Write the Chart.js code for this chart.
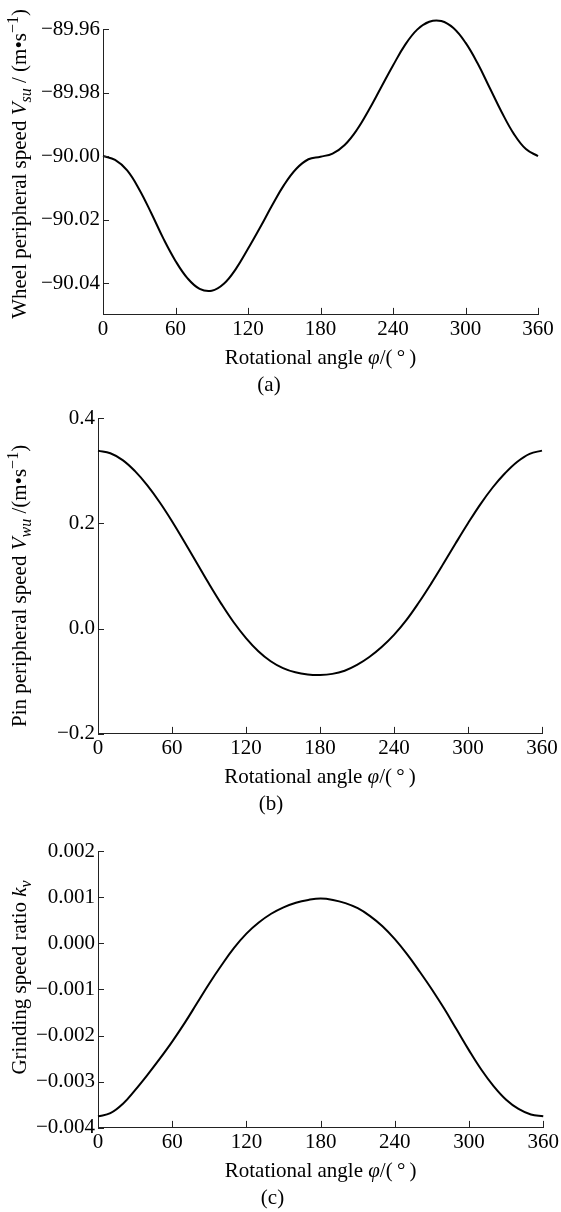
<!DOCTYPE html>
<html>
<head>
<meta charset="utf-8">
<script src="https://cdn.jsdelivr.net/npm/chart.js@4"></script>
<style>
  body { margin: 0; background: #fff; }
  .box { position: absolute; left: 0; width: 561px; }
</style>
</head>
<body>
<div class="box" style="top:0px"><canvas id="chartA" width="561" height="400"></canvas></div>
<div class="box" style="top:400px"><canvas id="chartB" width="561" height="420"></canvas></div>
<div class="box" style="top:820px"><canvas id="chartC" width="561" height="392"></canvas></div>
<script>
// rotational angle, degrees
const angles = [0, 10, 20, 30, 40, 50, 60, 70, 80, 90, 100, 110, 120, 130, 140, 150, 160, 170, 180,
    190, 200, 210, 220, 230, 240, 250, 260, 270, 280, 290, 300, 310, 320, 330, 340, 350, 360];

// (a) wheel peripheral speed
const wheelSpeed = [-90.0000, -90.0012, -90.0045, -90.0105, -90.0180, -90.0260, -90.0330, -90.0385, -90.0418,
    -90.0424, -90.0402, -90.0355, -90.0292, -90.0225, -90.0155, -90.0090, -90.0040, -90.0010, -90.0002,
    -89.9992, -89.9965, -89.9918, -89.9855, -89.9785, -89.9715, -89.9650, -89.9602, -89.9577, -89.9575,
    -89.9597, -89.9643, -89.9708, -89.9785, -89.9862, -89.9930, -89.9978, -90.0000];

// (b) pin peripheral speed
const pinSpeed = [0.338, 0.333, 0.320, 0.299, 0.272, 0.240, 0.204, 0.165, 0.125, 0.085, 0.047, 0.012, -0.018,
    -0.043, -0.062, -0.075, -0.083, -0.087, -0.088, -0.086, -0.080, -0.069, -0.054, -0.035, -0.012, 0.016,
    0.049, 0.085, 0.123, 0.162, 0.200, 0.236, 0.268, 0.295, 0.317, 0.332, 0.338];

// (c) grinding speed ratio
const speedRatio = [-0.00375, -0.00368, -0.00348, -0.00318, -0.00285, -0.00250, -0.00213, -0.00173, -0.00130,
    -0.00087, -0.00047, -0.00010, 0.00021, 0.00045, 0.00064, 0.00078, 0.00088, 0.00094, 0.00097, 0.00094,
    0.00087, 0.00076, 0.00059, 0.00037, 0.00009, -0.00024, -0.00061, -0.00100, -0.00142, -0.00187, -0.00232,
    -0.00274, -0.00310, -0.00339, -0.00359, -0.00371, -0.00375];

const xTicks = [0, 60, 120, 180, 240, 300, 360];
const yTicksA = [-90.04, -90.02, -90.00, -89.98, -89.96];
const yTicksB = [-0.2, 0.0, 0.2, 0.4];
const yTicksC = [-0.004, -0.003, -0.002, -0.001, 0.000, 0.001, 0.002];

const FONT = '"Liberation Serif", "Times New Roman", serif';
const FS = 21;

function drawRich(ctx, segs, cx, cy, rot) {
    const fontOf = s => (s.i ? 'italic ' : '') + ((s.sub || s.sup) ? Math.round(FS * 0.75) : FS) + 'px ' + FONT;
    let total = 0;
    segs.forEach(s => { ctx.font = fontOf(s); total += ctx.measureText(s.t).width; });
    ctx.save();
    ctx.translate(cx, cy);
    ctx.rotate(rot);
    ctx.textBaseline = 'alphabetic';
    ctx.textAlign = 'left';
    let x = -total / 2;
    segs.forEach(s => {
        ctx.font = fontOf(s);
        const dy = s.sub ? FS * 0.22 : s.sup ? -FS * 0.38 : 0;
        ctx.fillText(s.t, x, FS * 0.33 + dy);
        x += ctx.measureText(s.t).width;
    });
    ctx.restore();
}

// inward tick marks and the mixed-style axis titles
const axisDecor = {
    id: 'axisDecor',
    afterDraw(chart, args, opts) {
        const {ctx, chartArea} = chart;
        const xs = chart.scales.x, ys = chart.scales.y;
        ctx.save();
        ctx.strokeStyle = '#222';
        ctx.lineWidth = 1;
        ctx.beginPath();
        xs.ticks.forEach(t => {
            const px = Math.round(xs.getPixelForValue(t.value)) + 0.5;
            ctx.moveTo(px, chartArea.bottom);
            ctx.lineTo(px, chartArea.bottom - 7);
        });
        ys.ticks.forEach(t => {
            const py = Math.round(ys.getPixelForValue(t.value)) + 0.5;
            ctx.moveTo(chartArea.left, py);
            ctx.lineTo(chartArea.left + 6, py);
        });
        ctx.stroke();
        ctx.fillStyle = '#000';
        drawRich(ctx, opts.yTitle, opts.yTitleX, (chartArea.top + chartArea.bottom) / 2 + (opts.yShift || 0), -Math.PI / 2);
        drawRich(ctx, opts.xTitle, (chartArea.left + chartArea.right) / 2, chartArea.bottom + opts.xTitleGap, 0);
        ctx.restore();
    }
};

const xTitle = [{t: 'Rotational angle '}, {t: 'φ', i: true}, {t: '/(\u2009°\u2009)'}];

function makeChart(id, values, yTicks, decimals, cfg) {
    const fmt = v => v.toFixed(decimals).replace('-', '−');
    return new Chart(document.getElementById(id), {
        type: 'line',
        data: {
            datasets: [{
                data: angles.map((a, i) => ({x: a, y: values[i]})),
                borderColor: '#000',
                borderWidth: 2,
                pointRadius: 0,
                tension: 0.4,
                clip: false
            }]
        },
        options: {
            responsive: false,
            animation: false,
            devicePixelRatio: 1,
            layout: {padding: cfg.padding},
            plugins: {
                legend: {display: false},
                tooltip: {enabled: false},
                title: {
                    display: true,
                    position: 'bottom',
                    text: cfg.label,
                    color: '#000',
                    font: {family: FONT, size: FS, weight: 'normal', lineHeight: 1.1},
                    padding: {top: 0, bottom: 0}
                },
                axisDecor: {
                    yTitle: cfg.yTitle,
                    yTitleX: cfg.yTitleX,
                    yShift: cfg.yShift,
                    xTitle: xTitle,
                    xTitleGap: 42
                }
            },
            scales: {
                x: {
                    type: 'linear',
                    min: 0,
                    max: 360,
                    afterBuildTicks: s => { s.ticks = xTicks.map(v => ({value: v})); },
                    afterFit: s => { s.height = 59; },
                    grid: {display: false, drawTicks: false},
                    border: {display: true, color: '#222', width: 1},
                    ticks: {color: '#000', font: {family: FONT, size: FS}, padding: 2, maxRotation: 0}
                },
                y: {
                    type: 'linear',
                    min: cfg.min,
                    max: cfg.max,
                    afterBuildTicks: s => { s.ticks = yTicks.map(v => ({value: v})); },
                    afterFit: s => { s.width = cfg.left; },
                    grid: {display: false, drawTicks: false},
                    border: {display: true, color: '#222', width: 1},
                    ticks: {color: '#000', font: {family: FONT, size: FS}, padding: 3, callback: v => fmt(v)}
                }
            }
        },
        plugins: [axisDecor]
    });
}

makeChart('chartA', wheelSpeed, yTicksA, 2, {
    min: -90.05, max: -89.96, left: 103, label: '(a)',
    padding: {left: 0, right: 23, top: 29, bottom: 3},
    yTitleX: 19, yShift: -8,
    yTitle: [{t: 'Wheel peripheral speed '}, {t: 'V', i: true}, {t: 'su', i: true, sub: true},
        {t: ' / (m•s'}, {t: '−1', sup: true}, {t: ')'}]
});

makeChart('chartB', pinSpeed, yTicksB, 1, {
    min: -0.2, max: 0.4, left: 98, label: '(b)',
    padding: {left: 0, right: 19, top: 18, bottom: 4},
    yTitleX: 19, yShift: 10,
    yTitle: [{t: 'Pin peripheral speed '}, {t: 'V', i: true}, {t: 'wu', i: true, sub: true},
        {t: ' /(m•s'}, {t: '−1', sup: true}, {t: ')'}]
});

makeChart('chartC', speedRatio, yTicksC, 3, {
    min: -0.004, max: 0.002, left: 98, label: '(c)',
    padding: {left: 0, right: 16, top: 31, bottom: 2},
    yTitleX: 19, yShift: -12,
    yTitle: [{t: 'Grinding speed ratio '}, {t: 'k', i: true}, {t: 'v', i: true, sub: true}]
});
</script>
</body>
</html>
